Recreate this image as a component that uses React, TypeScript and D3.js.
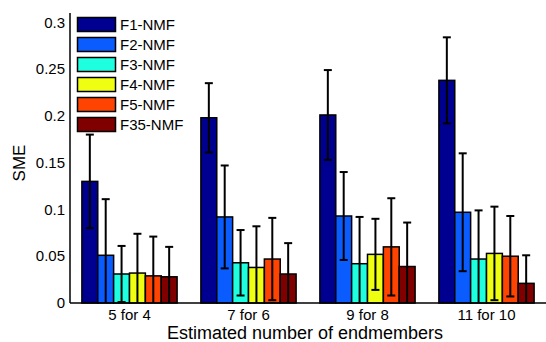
import React from "react";
import * as d3 from "d3";

const categories = ["5 for 4", "7 for 6", "9 for 8", "11 for 10"];
const seriesNames = ["F1-NMF", "F2-NMF", "F3-NMF", "F4-NMF", "F5-NMF", "F35-NMF"];
const seriesColors = ["#000090", "#0a5cff", "#1effe0", "#eeff12", "#ff4300", "#800000"];
// values[series][category]
const values = [
  [0.130, 0.198, 0.201, 0.238],
  [0.051, 0.092, 0.093, 0.097],
  [0.031, 0.043, 0.042, 0.047],
  [0.032, 0.038, 0.052, 0.053],
  [0.029, 0.047, 0.060, 0.050],
  [0.028, 0.031, 0.039, 0.021],
];
// symmetric error half-widths
const errors = [
  [0.050, 0.037, 0.048, 0.046],
  [0.060, 0.055, 0.047, 0.063],
  [0.030, 0.035, 0.050, 0.052],
  [0.042, 0.044, 0.038, 0.050],
  [0.042, 0.044, 0.052, 0.043],
  [0.032, 0.033, 0.047, 0.030],
];
const yTicks = [0, 0.05, 0.1, 0.15, 0.2, 0.25, 0.3];

export default function App() {
  const W = 546, H = 342;
  const left = 70, right = 546, top = 13, bottom = 303;
  const x = d3.scaleLinear().domain([0.5, categories.length + 0.5]).range([left, right]);
  const y = d3.scaleLinear().domain([0, 0.31]).range([bottom, top]);
  const groupW = (x(2) - x(1)) * 0.8;
  const bw = groupW / seriesNames.length;
  const font = "Liberation Sans, Arial, sans-serif";
  const capW = 8;

  return (
    <svg width={W} height={H} style={{ position: "absolute", left: 0, top: 0, background: "#fff" }}>
      <defs>
        <clipPath id="plotclip">
          <rect x={left} y={0} width={right - left} height={bottom} />
        </clipPath>
      </defs>
      {seriesNames.map((s, si) =>
        categories.map((c, ci) => {
          const x0 = x(ci + 1) - groupW / 2 + si * bw;
          return (
            <rect key={s + c} x={x0} y={y(values[si][ci])} width={bw}
              height={bottom - y(values[si][ci])} fill={seriesColors[si]}
              stroke="#000" strokeWidth={1.5} />
          );
        })
      )}
      <g clipPath="url(#plotclip)">
        {seriesNames.map((s, si) =>
          categories.map((c, ci) => {
            const cx = x(ci + 1) - groupW / 2 + (si + 0.5) * bw;
            const hi = y(values[si][ci] + errors[si][ci]);
            const lo = y(values[si][ci] - errors[si][ci]);
            return (
              <g key={"e" + s + c} stroke="#000" strokeWidth={2}>
                <line x1={cx} x2={cx} y1={hi} y2={lo} />
                <line x1={cx - capW / 2} x2={cx + capW / 2} y1={hi} y2={hi} />
                <line x1={cx - capW / 2} x2={cx + capW / 2} y1={lo} y2={lo} />
              </g>
            );
          })
        )}
      </g>
      <line x1={left} x2={left} y1={top} y2={bottom} stroke="#000" strokeWidth={1.5} />
      <line x1={left} x2={right} y1={bottom} y2={bottom} stroke="#000" strokeWidth={1.5} />
      {yTicks.map((t) => (
        <text key={t} x={left - 5} y={y(t)} dy="0.35em" textAnchor="end" fontSize={15}
          fontFamily={font} fill="#000">{String(t)}</text>
      ))}
      {categories.map((c, ci) => (
        <text key={c} x={x(ci + 1)} y={319.5} textAnchor="middle" fontSize={15}
          fontFamily={font} fill="#000">{c}</text>
      ))}
      <text x={305} y={339} textAnchor="middle" fontSize={18} fontFamily={font} fill="#000">
        Estimated number of endmembers
      </text>
      <text transform={`translate(25,${(top + bottom) / 2 + 5}) rotate(-90)`} textAnchor="middle"
        fontSize={17} fontFamily={font} fill="#000">SME</text>
      {seriesNames.map((s, si) => (
        <g key={"l" + s}>
          <rect x={77.5} y={17.5 + si * 20} width={38} height={14} fill={seriesColors[si]}
            stroke="#000" strokeWidth={1.5} />
          <text x={120} y={25} dy="0.35em" transform={`translate(0,${si * 20})`} fontSize={15}
            fontFamily={font} fill="#000">{s}</text>
        </g>
      ))}
    </svg>
  );
}
